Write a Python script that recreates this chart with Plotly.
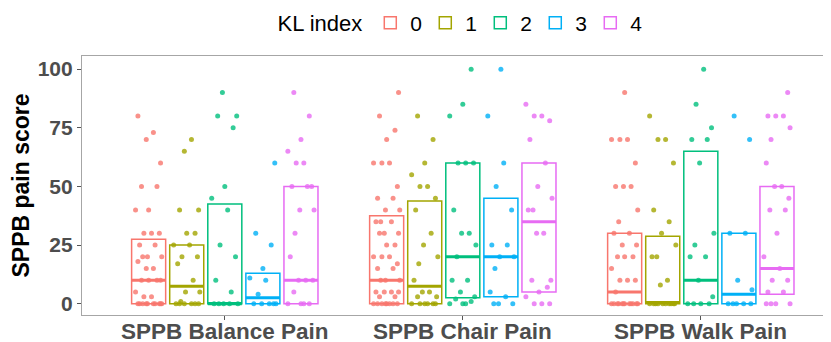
import plotly.graph_objects as go

# ---------------- data ----------------
categories = ["SPPB Balance Pain", "SPPB Chair Pain", "SPPB Walk Pain"]
kl_levels = ["0", "1", "2", "3", "4"]
colors = ["#F8766D", "#A3A500", "#00BF7D", "#00B0F6", "#E76BF3"]
y_ticks = [0, 25, 50, 75, 100]

# box statistics per KL level, one value per category (Balance, Chair, Walk)
q1_kl0 = [0, 0, 0]
med_kl0 = [10, 10, 5]
q3_kl0 = [27.5, 37.5, 30]
q1_kl1 = [0, 0, 0]
med_kl1 = [7.5, 7.5, 0.5]
q3_kl1 = [25, 43.75, 28.75]
q1_kl2 = [0, 2.5, 0]
med_kl2 = [0, 20, 10]
q3_kl2 = [42.5, 60, 65]
q1_kl3 = [0, 3, 0]
med_kl3 = [2.5, 20, 4]
q3_kl3 = [13, 45, 30]
q1_kl4 = [0, 5, 4]
med_kl4 = [10, 35, 15]
q3_kl4 = [50, 60, 50]

# individual scores
balance_kl0 = [80, 73, 70, 60, 50, 50, 40, 40, 30, 30, 30, 25, 25, 20, 20, 20, 18, 15, 15,
               10, 10, 10, 10, 5, 3, 3, 0, 0, 0, 0, 0, 0, 0, 0, 0, 0]
balance_kl1 = [70, 65, 40, 40, 30, 30, 25, 25, 20, 20, 17, 10, 5, 5, 1, 0, 0, 0, 0, 0, 0]
balance_kl2 = [90, 80, 80, 75, 50, 45, 40, 25, 20, 10, 5, 0, 0, 0, 0, 0]
balance_kl3 = [60, 30, 25, 15, 11, 10, 4, 0, 0, 0, 0, 0]
balance_kl4 = [90, 80, 70, 65, 60, 60, 50, 50, 50, 40, 40, 30, 20, 10, 10, 10, 5, 0, 0, 0, 0]

chair_kl0 = [90, 80, 74, 70, 60, 60, 60, 50, 45, 45, 40, 40, 35, 35, 35, 30, 30, 30, 25, 25,
             20, 20, 20, 17, 15, 15, 10, 10, 10, 5, 5, 5, 5, 3, 3, 0, 0, 0, 0, 0, 0, 0, 0]
chair_kl1 = [80, 70, 60, 55, 50, 50, 45, 40, 30, 25, 20, 17, 10, 5, 5, 3, 3, 0, 0, 0, 0, 0, 0]
chair_kl2 = [100, 85, 80, 60, 60, 60, 40, 30, 30, 25, 20, 10, 10, 5, 3, 2, 1, 0, 0, 0]
chair_kl3 = [100, 80, 60, 50, 40, 25, 25, 20, 20, 15, 5, 3, 0, 0, 0]
chair_kl4 = [85, 80, 80, 78, 70, 60, 50, 45, 40, 40, 30, 30, 10, 10, 7, 5, 3, 0, 0, 0]

walk_kl0 = [90, 70, 70, 70, 60, 50, 50, 50, 40, 35, 30, 30, 25, 25, 20, 20, 20, 15,
            10, 10, 10, 5, 0, 0, 0, 0, 0, 0, 0, 0, 0, 0, 0, 0]
walk_kl1 = [80, 70, 70, 60, 40, 35, 30, 25, 20, 20, 10, 8, 0, 0, 0, 0, 0, 0, 0, 0, 0, 0]
walk_kl2 = [100, 85, 75, 70, 70, 60, 30, 25, 20, 20, 10, 3, 0, 0, 0, 0]
walk_kl3 = [80, 70, 30, 30, 10, 6, 0, 0, 0, 0, 0]
walk_kl4 = [90, 80, 80, 80, 75, 70, 60, 50, 50, 45, 40, 40, 30, 20, 15, 10, 10, 5, 5, 0, 0, 0, 0]

# ---------------- build ----------------
q1s = [q1_kl0, q1_kl1, q1_kl2, q1_kl3, q1_kl4]
meds = [med_kl0, med_kl1, med_kl2, med_kl3, med_kl4]
q3s = [q3_kl0, q3_kl1, q3_kl2, q3_kl3, q3_kl4]
points = [
    [balance_kl0, chair_kl0, walk_kl0],
    [balance_kl1, chair_kl1, walk_kl1],
    [balance_kl2, chair_kl2, walk_kl2],
    [balance_kl3, chair_kl3, walk_kl3],
    [balance_kl4, chair_kl4, walk_kl4],
]

dodge = 0.16
box_w = 0.143
jitter_pattern = [-0.045, 0.02, -0.01, 0.05, -0.03, 0.035, 0.0, -0.055, 0.012, -0.02,
                  0.045, -0.038, 0.027, -0.005, 0.055, -0.025]
cat_pos = [1, 2, 3]
FONT = "Liberation Sans, Arial, sans-serif"

fig = go.Figure()
for k, lvl in enumerate(kl_levels):
    off = (k - 2) * dodge
    xs = [c + off for c in cat_pos]
    # jittered points
    px, py = [], []
    for ci, c in enumerate(cat_pos):
        for i, v in enumerate(points[k][ci]):
            px.append(c + off + jitter_pattern[(i + 3 * ci + k) % len(jitter_pattern)])
            py.append(v)
    fig.add_trace(go.Scatter(
        x=px, y=py, mode="markers", showlegend=False, hoverinfo="skip",
        marker=dict(color=colors[k], size=5, opacity=0.8, line=dict(width=0)),
    ))
    # boxes (no whiskers)
    fig.add_trace(go.Box(
        x=xs, q1=q1s[k], median=meds[k], q3=q3s[k],
        lowerfence=q1s[k], upperfence=q3s[k],
        width=box_w, name=lvl, legendgroup=lvl,
        line=dict(color=colors[k], width=1.5),
        fillcolor="rgba(255,255,255,0)",
        boxpoints=False, whiskerwidth=0,
    ))
    # thicker median bars
    mx, my = [], []
    for xi, m in zip(xs, meds[k]):
        mx += [xi - box_w / 2, xi + box_w / 2, None]
        my += [m, m, None]
    fig.add_trace(go.Scatter(
        x=mx, y=my, mode="lines", showlegend=False, hoverinfo="skip",
        line=dict(color=colors[k], width=3),
    ))

# category labels below the axis
for c, lab in zip(cat_pos, categories):
    fig.add_annotation(
        x=c, xref="x", y=0, yref="paper", yanchor="top", yshift=-3,
        height=22, valign="middle",
        text=f"<b>{lab}</b>", showarrow=False,
        font=dict(size=22.5, color="#4D4D4D", family=FONT),
    )

# the page body adds an 8px offset; size the figure to fill the rest of the window
fig.update_layout(
    width=823, height=334,
    margin=dict(l=74, r=0, t=48, b=27),
    plot_bgcolor="white", paper_bgcolor="white",
    font=dict(family=FONT, color="black"),
    boxmode="overlay",
    legend=dict(
        orientation="h", xref="container", yref="container",
        x=0.325, xanchor="left", y=0.955, yanchor="middle",
        title=dict(text="KL index", font=dict(size=22)),
        font=dict(size=21), itemwidth=30, entrywidth=10,
    ),
)
fig.update_xaxes(
    range=[0.4, 3.547], tickvals=cat_pos, ticktext=[""] * len(cat_pos),
    showline=True, mirror=True, linecolor="#A6A6A6", linewidth=1.2,
    ticks="outside", ticklen=4, tickcolor="#555555",
    showgrid=False, zeroline=False, automargin=False,
)
fig.update_yaxes(
    range=[-4.8, 105.6], tickvals=y_ticks,
    showline=True, mirror=True, linecolor="#A6A6A6", linewidth=1.2,
    ticks="outside", ticklen=4, tickcolor="#555555",
    tickfont=dict(size=21, color="#4D4D4D", family=FONT, weight="bold"),
    title=dict(text="<b>SPPB pain score</b>", font=dict(size=23), standoff=11),
    showgrid=False, zeroline=False, automargin=False,
)

fig.write_html("out.html")
